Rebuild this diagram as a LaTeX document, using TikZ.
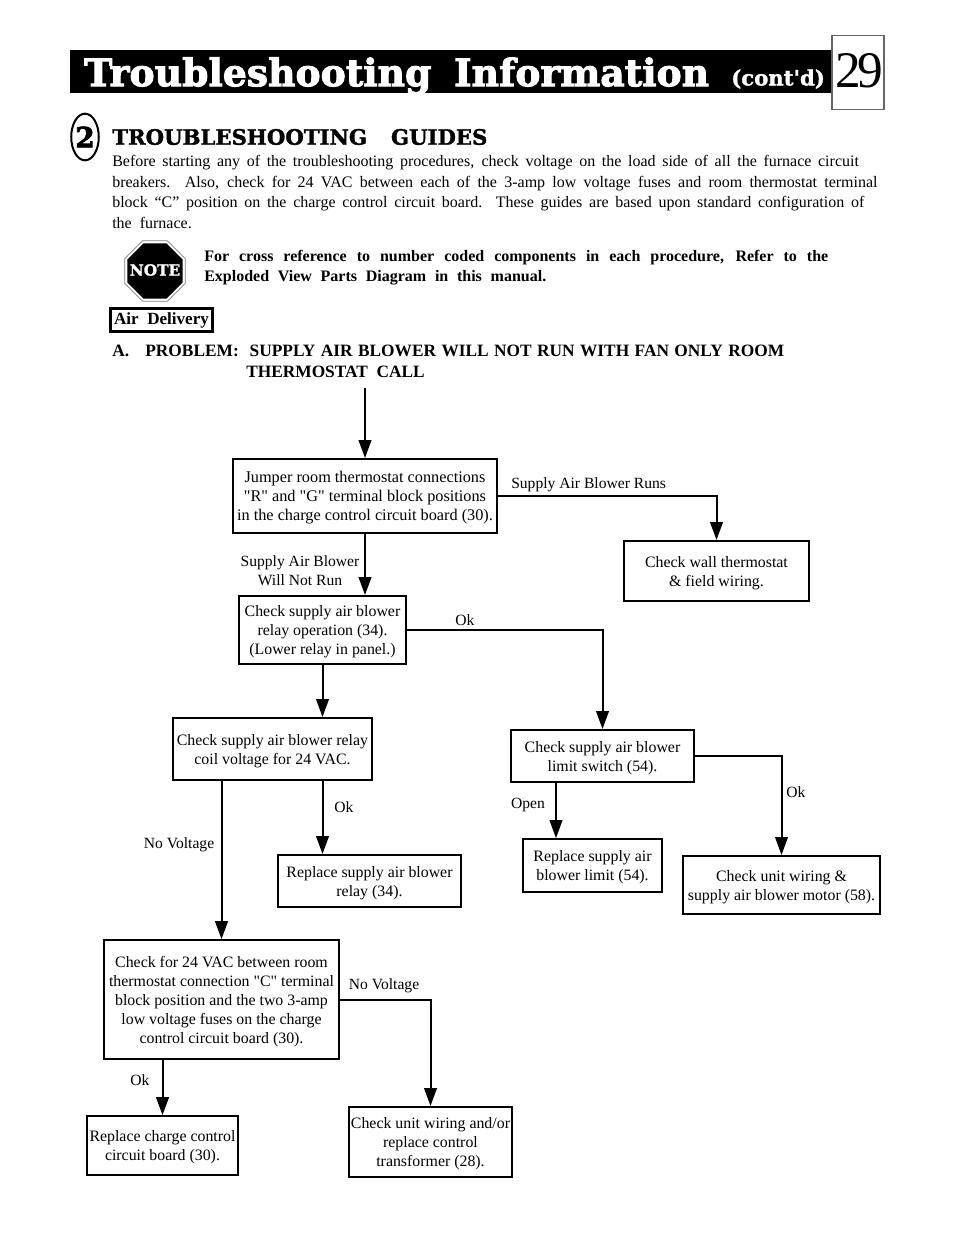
\documentclass[tikz,border=0pt]{standalone}
\usepackage{fontspec}
\setmainfont{Liberation Serif}
\newfontfamily\plainrm{Liberation Serif}
\newfontfamily\fatfont[FakeBold=1.5]{DejaVu Serif Bold}
\newfontfamily\titlefont[FakeBold=2.5]{DejaVu Serif Bold}
\usetikzlibrary{arrows.meta}
\usetikzlibrary{shapes.geometric}
\newcommand{\spreadline}[2]{\makebox[#1][s]{#2}}
\newcommand{\upstrut}{\rule{0pt}{11.3pt}}
\tikzset{
	boxnode/.style={draw, line width=1.5pt, inner sep=0pt, align=center, font=\fontsize{11.9}{14.25}\plainrm},
	lab/.style={inner sep=0pt, align=center, font=\fontsize{11.7}{14.25}\plainrm},
	bodytext/.style={anchor=west, inner sep=0pt, align=left, font=\fontsize{12}{15.4}\selectfont},
	boldtext/.style={anchor=west, inner sep=0pt, align=left, font=\fontsize{12}{15}\selectfont\bfseries},
	flow/.style={-{Triangle[length=13.5pt, width=9.5pt]}, line width=1.5pt},
	elbow/.style={to path={-| (\tikztotarget)}}
}
\begin{document}
\begin{tikzpicture}[x=0.75pt, y=-0.75pt]
\useasboundingbox[fill=white] (0,0) rectangle (954,1235);
\fill (70,50) rectangle (832,93);
\node[draw=black!60, line width=0.8pt, minimum width=39pt, minimum height=56pt, inner sep=0pt] (pagebox) at (858,72.5) {};
\node[inner sep=0pt, font=\fontsize{38.5}{40}\plainrm] (pagenum) at (859.5,71) {2\kern-2.5pt 9};
\node[anchor=west, inner sep=0pt, text=white, font=\fontsize{28.3}{30}\titlefont] (title) at (84,76) {Troubleshooting\hspace{17pt}Information};
\node[anchor=west, inner sep=0pt, text=white, font=\fontsize{15.9}{16}\fatfont] (contd) at (731,79) {(cont'd)};
\node[draw, ellipse, line width=1.5pt, minimum width=18pt, minimum height=35pt, inner sep=0pt, font=\fontsize{21}{21}\titlefont] (circ) at (85,137) {2};
\node[anchor=west, inner sep=0pt, font=\fontsize{15.9}{16}\fatfont] (guides) at (112,137) {TROUBLESHOOTING\hspace{18pt}GUIDES};
\node[bodytext] (intro) at (112,192) {%
	\spreadline{560pt}{Before starting any of the troubleshooting procedures, check voltage on the load side of all the furnace circuit}\\
	\spreadline{574pt}{breakers.\ \ Also, check for 24 VAC between each of the 3-amp low voltage fuses and room thermostat terminal}\\
	\spreadline{564pt}{block “C” position on the charge control circuit board.\ \ These guides are based upon standard configuration of}\\
	the\ \ furnace.};
\node[draw=black!50, fill=white, line width=0.5pt, regular polygon, regular polygon sides=8, minimum size=49pt, inner sep=0pt] (noteout) at (155,271) {};
\node[fill=black, regular polygon, regular polygon sides=8, minimum size=45pt, inner sep=0pt, text=white] (note) at (155,271) {};
\node[inner sep=0pt, text=white, font=\fontsize{11.5}{14}\fatfont] (notelab) at (155,270) {NOTE};
\node[boldtext] (notetext) at (204,268) {%
	\spreadline{468pt}{For cross reference to number coded components in each procedure, Refer to the}\\
	\spreadline{256.5pt}{Exploded\ \ View\ \ Parts\ \ Diagram\ \ in\ \ this\ \ manual.}};
\node[draw, line width=2.2pt, minimum width=77pt, minimum height=17pt, inner sep=0pt, font=\fontsize{12.8}{15}\bfseries] (air) at (161.5,320) {Air\ \ Delivery};
\node[boldtext, font=\fontsize{13}{15}\bfseries] (probhead) at (112,351) {\spreadline{504pt}{A.\ \ \ PROBLEM:\ \ SUPPLY AIR BLOWER WILL NOT RUN WITH FAN ONLY ROOM}};
\node[boldtext, font=\fontsize{13}{15}\bfseries] (probcont) at (246,372) {THERMOSTAT\ \ CALL};

\coordinate (start) at (365,388);
\node[boxnode, font=\fontsize{12.2}{14.25}\plainrm, minimum width=198pt, minimum height=55.5pt] (jumper) at (365,496) {\upstrut Jumper room thermostat connections\\"R" and "G" terminal block positions\\in the charge control circuit board (30).};
\node[boxnode, minimum width=139pt, minimum height=45pt] (wall) at (716.5,571) {\upstrut Check wall thermostat\\\& field wiring.};
\node[boxnode, minimum width=125pt, minimum height=51pt] (relayop) at (322.5,630) {\upstrut Check supply air blower\\relay operation (34).\\(Lower relay in panel.)};
\node[boxnode, minimum width=149pt, minimum height=46.5pt] (coil) at (272.5,749) {\upstrut Check supply air blower relay\\coil voltage for 24 VAC.};
\node[boxnode, minimum width=137pt, minimum height=39pt] (limit) at (602.5,756) {\upstrut Check supply air blower\\limit switch (54).};
\node[boxnode, minimum width=137pt, minimum height=39pt] (relay) at (369.5,881) {\upstrut Replace supply air blower\\relay (34).};
\node[boxnode, minimum width=104pt, minimum height=39.5pt] (limrep) at (592.5,865.5) {\upstrut Replace supply air\\blower limit (54).};
\node[boxnode, minimum width=148pt, minimum height=43.5pt] (motor) at (781.5,885) {\upstrut Check unit wiring \&\\supply air blower motor (58).};
\node[boxnode, minimum width=176pt, minimum height=89pt] (fuses) at (221.5,999.5) {\upstrut Check for 24 VAC between room\\thermostat connection "C" terminal\\block position and the two 3-amp\\low voltage fuses on the charge\\control circuit board (30).};
\node[boxnode, minimum width=113pt, minimum height=44pt] (board) at (162.5,1145.5) {\upstrut Replace charge control\\circuit board (30).};
\node[boxnode, minimum width=122pt, minimum height=52.5pt] (transf) at (430.5,1142) {\upstrut Check unit wiring and/or\\replace control\\transformer (28).};

\path[flow]
(start) edge (jumper.north)
(jumper.east) edge[elbow] (wall.north)
(jumper.south) edge (jumper.south |- relayop.north)
(relayop.south) edge (relayop.south |- coil.north)
(relayop.east) edge[elbow] (limit.north)
(coil.south -| relayop.south) edge (relay.north -| relayop.south)
(coil.south -| fuses.north) edge (fuses.north)
(limit.south -| 556,0) edge (limrep.north -| 556,0)
(limit.east) edge[elbow] (motor.north)
(fuses.south -| board.north) edge (board.north)
(fuses.east) edge[elbow] (transf.north);

\node[lab, anchor=west] (labruns) at (511,485) {Supply Air Blower Runs};
\node[lab] (labnot) at (300,570.5) {Supply Air Blower\\Will Not Run};
\node[lab] (labokb) at (465,620) {Ok};
\node[lab] (labokc) at (344,807) {Ok};
\node[lab] (labnov) at (179,845) {No Voltage};
\node[lab] (labopen) at (528,805) {Open};
\node[lab] (labokd) at (796,792) {Ok};
\node[lab] (labnow) at (384,986) {No Voltage};
\node[lab] (labokf) at (140,1080) {Ok};
\end{tikzpicture}
\end{document}
